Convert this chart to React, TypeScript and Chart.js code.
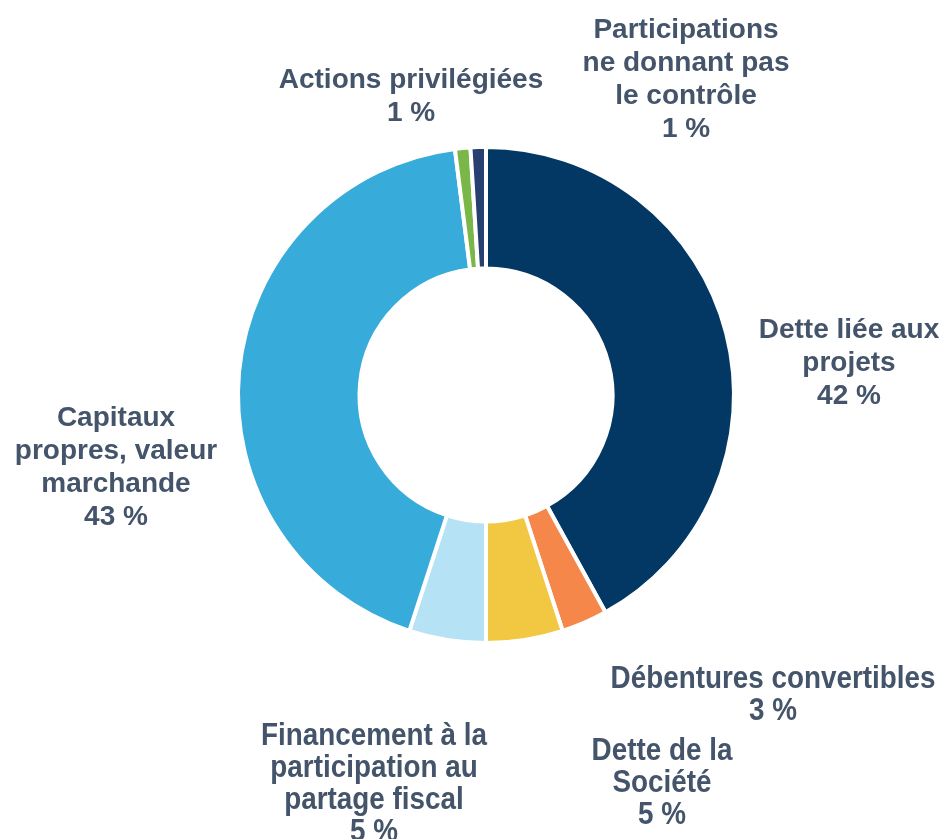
import React, { useEffect, useRef } from "react";
import { Chart, registerables } from "chart.js";

Chart.register(...registerables);

const categories = [
  "Dette liée aux projets",
  "Débentures convertibles",
  "Dette de la Société",
  "Financement à la participation au partage fiscal",
  "Capitaux propres, valeur marchande",
  "Actions privilégiées",
  "Participations ne donnant pas le contrôle",
];
const shares = [42, 3, 5, 5, 43, 1, 1];
const labelLines = [
  ["Dette liée aux", "projets"],
  ["Débentures convertibles"],
  ["Dette de la", "Société"],
  ["Financement à la", "participation au", "partage fiscal"],
  ["Capitaux", "propres, valeur", "marchande"],
  ["Actions privilégiées"],
  ["Participations", "ne donnant pas", "le contrôle"],
];
const sliceColors = ["#023863", "#f5874a", "#f2c842", "#b5e2f4", "#37abd9", "#7ab648", "#28406f"];
// label placement relative to doughnut centre: [dx, dy of first baseline, compressed]
const labelPlacement: [number, number, boolean][] = [
  [363, -57, false],
  [287, 293, true],
  [176, 365, true],
  [-112, 350, true],
  [-370, 31, false],
  [-75, -307, false],
  [200, -357, false],
];

const labelPlugin = {
  id: "outsideLabels",
  afterDraw(chart: any) {
    const meta = chart.getDatasetMeta(0);
    const ctx = chart.ctx;
    const arc0 = meta.data[0];
    const cx = arc0.x;
    const cy = arc0.y;
    ctx.save();
    ctx.fillStyle = "#44546a";
    ctx.textAlign = "center";
    ctx.textBaseline = "alphabetic";
    meta.data.forEach((_a: any, i: number) => {
      const [dx, dy, narrow] = labelPlacement[i];
      const lines = [...labelLines[i], `${shares[i]} %`];
      const lh = narrow ? 32 : 33;
      ctx.font = narrow ? "bold 32px 'Liberation Sans', Arial, sans-serif" : "bold 28px 'Liberation Sans', Arial, sans-serif";
      lines.forEach((t, k) => {
        ctx.save();
        ctx.translate(cx + dx, cy + dy + k * lh);
        if (narrow) ctx.scale(0.87, 1);
        ctx.fillText(t, 0, 0);
        ctx.restore();
      });
    });
    ctx.restore();
  },
};

export default function App() {
  const ref = useRef<HTMLCanvasElement>(null);
  useEffect(() => {
    document.body.style.margin = "0";
    const chart = new Chart(ref.current!, {
      type: "doughnut",
      data: {
        labels: categories,
        datasets: [
          {
            data: shares,
            backgroundColor: sliceColors,
            borderColor: "#ffffff",
            borderWidth: 4,
            hoverOffset: 0,
          },
        ],
      },
      options: {
        responsive: false,
        animation: false,
        cutout: "51%",
        rotation: 0,
        layout: { padding: { left: 236, top: 145, right: 207, bottom: 194 } },
        plugins: { legend: { display: false }, tooltip: { enabled: false } },
      },
      plugins: [labelPlugin],
    });
    return () => chart.destroy();
  }, []);
  return (
    <div style={{ width: 943, height: 839, background: "#ffffff" }}>
      <canvas ref={ref} width={943} height={839} style={{ display: "block" }} />
    </div>
  );
}
